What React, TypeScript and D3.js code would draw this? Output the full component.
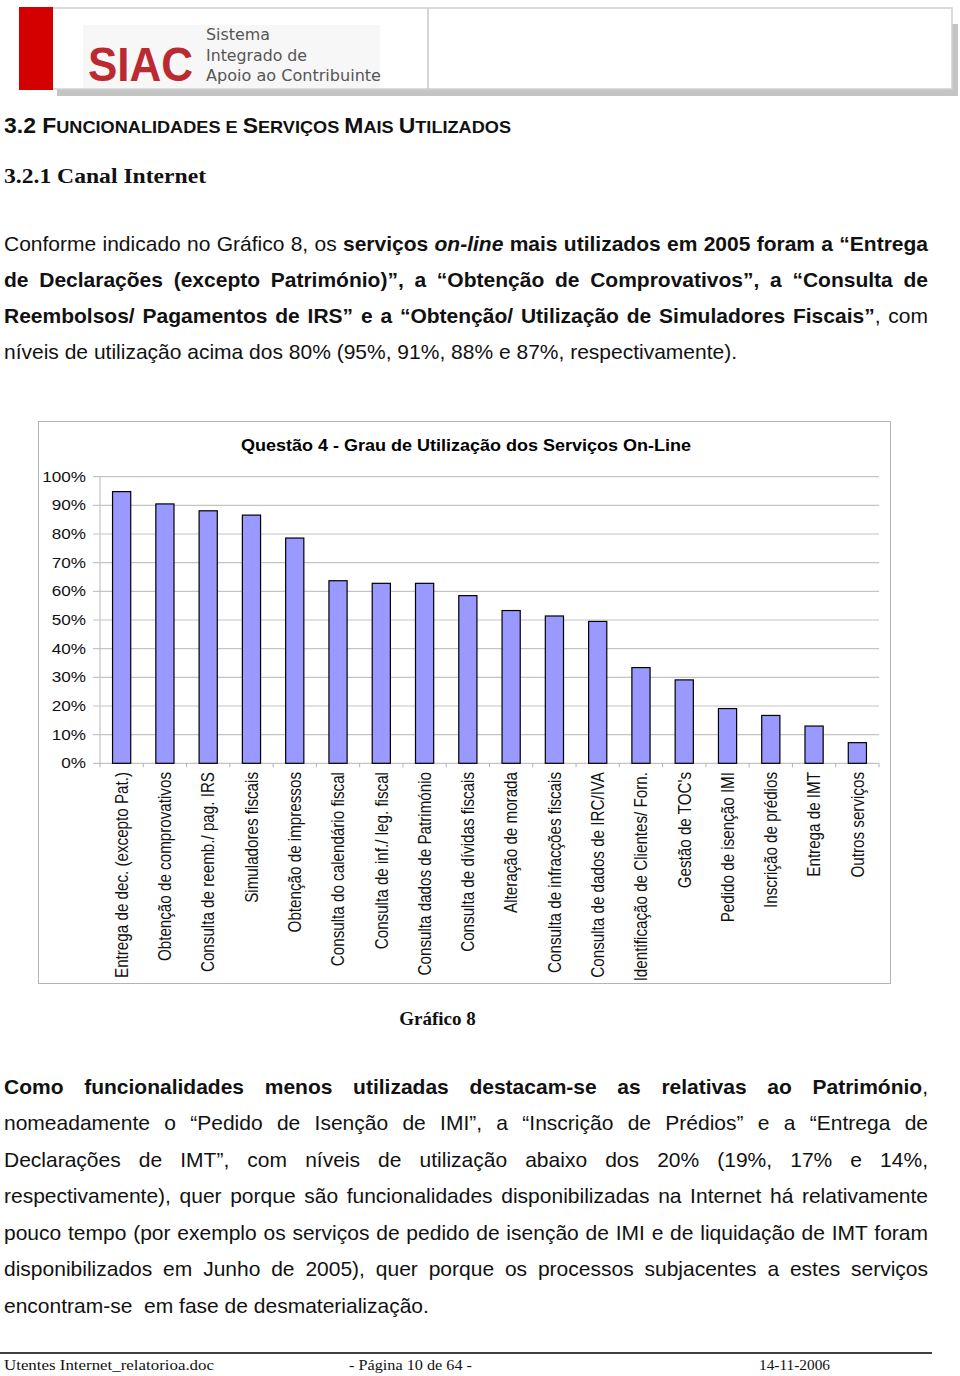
import React, { useLayoutEffect, useRef } from 'react';
import * as d3 from 'd3';

const categories = [
  'Entrega de dec. (excepto Pat.)',
  'Obtenção de comprovativos',
  'Consulta de reemb./ pag. IRS',
  'Simuladores fiscais',
  'Obtenção de impressos',
  'Consulta do calendário fiscal',
  'Consulta de inf./ leg. fiscal',
  'Consulta dados de Património',
  'Consulta de dívidas fiscais',
  'Alteração de morada',
  'Consulta de infracções fiscais',
  'Consulta de dados de IRC/IVA',
  'Identificação de Clientes/ Forn.',
  "Gestão de TOC's",
  'Pedido de isenção IMI',
  'Inscrição de prédios',
  'Entrega de IMT',
  'Outros serviços',
];
const values = [94.8, 90.5, 88.1, 86.6, 78.6, 63.7, 62.8, 62.8, 58.5, 53.3, 51.4, 49.5, 33.4, 29.1, 19.1, 16.7, 13.0, 7.2];
const yTicks = [0, 10, 20, 30, 40, 50, 60, 70, 80, 90, 100];
const chartTitle = 'Questão 4 - Grau de Utilização dos Serviços On-Line';

const SANS = '"Liberation Sans", Arial, Helvetica, sans-serif';
const SERIF = '"Liberation Serif", "Times New Roman", serif';

type Seg = { t: string; b?: boolean; i?: boolean };

function Line({ y, segs, justify, x = 4, width = 924, size = 21 }: { y: number; segs: Seg[]; justify: boolean; x?: number; width?: number; size?: number }) {
  const ref = useRef<SVGTextElement>(null);
  useLayoutEffect(() => {
    const el = ref.current;
    if (!el || !justify) return;
    el.style.wordSpacing = '0px';
    const w = el.getComputedTextLength();
    const txt = el.textContent || '';
    const spaces = (txt.match(/ /g) || []).length;
    if (spaces > 0) el.style.wordSpacing = `${(width - w) / spaces}px`;
  }, [justify, width]);
  return (
    <text ref={ref} x={x} y={y} fontFamily={SANS} fontSize={size} fill="#111" style={{ whiteSpace: 'pre' }}>
      {segs.map((s, k) => (
        <tspan key={k} fontWeight={s.b ? 'bold' : 'normal'} fontStyle={s.i ? 'italic' : 'normal'}>{s.t}</tspan>
      ))}
    </text>
  );
}

const para1: Seg[][] = [
  [{ t: 'Conforme indicado no Gráfico 8, os ' }, { t: 'serviços ', b: true }, { t: 'on-line', b: true, i: true }, { t: ' mais utilizados em 2005 foram a “Entrega', b: true }],
  [{ t: 'de Declarações (excepto Património)”, a “Obtenção de Comprovativos”, a “Consulta de', b: true }],
  [{ t: 'Reembolsos/ Pagamentos de IRS” e a “Obtenção/ Utilização de Simuladores Fiscais”', b: true }, { t: ', com' }],
  [{ t: 'níveis de utilização acima dos 80% (95%, 91%, 88% e 87%, respectivamente).' }],
];
const para2: Seg[][] = [
  [{ t: 'Como funcionalidades menos utilizadas destacam-se as relativas ao Património', b: true }, { t: ',' }],
  [{ t: 'nomeadamente o “Pedido de Isenção de IMI”, a “Inscrição de Prédios” e a “Entrega de' }],
  [{ t: 'Declarações de IMT”, com níveis de utilização abaixo dos 20% (19%, 17% e 14%,' }],
  [{ t: 'respectivamente), quer porque são funcionalidades disponibilizadas na Internet há relativamente' }],
  [{ t: 'pouco tempo (por exemplo os serviços de pedido de isenção de IMI e de liquidação de IMT foram' }],
  [{ t: 'disponibilizados em Junho de 2005), quer porque os processos subjacentes a estes serviços' }],
  [{ t: 'encontram-se  em fase de desmaterialização.' }],
];

function Chart() {
  const plotLeft = 100, plotRight = 879, plotTop = 476.7, plotBottom = 763.3;
  const x = d3.scaleBand<string>().domain(categories).range([plotLeft, plotRight]).padding(0);
  const y = d3.scaleLinear().domain([0, 100]).range([plotBottom, plotTop]);
  const barW = x.bandwidth() * 0.42;
  const sx = 1.18;
  return (
    <g fontFamily={SANS}>
      <rect x={38.5} y={421.5} width={852} height={562} fill="#fff" stroke="#b4b4b4" strokeWidth={1} />
      <text x={466} y={451} textAnchor="middle" fontSize={17} fontWeight="bold" textLength={450} lengthAdjust="spacingAndGlyphs">{chartTitle}</text>
      {yTicks.map((t) => (
        <g key={t}>
          <line x1={plotLeft - 7} x2={plotRight} y1={y(t)} y2={y(t)} stroke="#c4c4c4" strokeWidth={1.2} />
          <text transform={`translate(86,${y(t) + 5}) scale(${sx},1)`} textAnchor="end" fontSize={14.5} fill="#111">{t}%</text>
        </g>
      ))}
      <line x1={plotLeft} x2={plotLeft} y1={plotTop} y2={plotBottom} stroke="#c4c4c4" strokeWidth={1.2} />
      {categories.map((c, k) => (
        <line key={'tk' + k} x1={(x(c) as number)} x2={(x(c) as number)} y1={plotBottom} y2={plotBottom + 4} stroke="#b0b0b0" strokeWidth={1} />
      ))}
      <line x1={plotRight} x2={plotRight} y1={plotBottom} y2={plotBottom + 4} stroke="#b0b0b0" strokeWidth={1} />
      {categories.map((c, k) => {
        const cx = (x(c) as number) + x.bandwidth() / 2;
        return (
          <rect key={'b' + k} x={cx - barW / 2} y={y(values[k])} width={barW} height={plotBottom - y(values[k])} fill="#9999ff" stroke="#000" strokeWidth={1.2} />
        );
      })}
      {categories.map((c, k) => {
        const cx = (x(c) as number) + x.bandwidth() / 2;
        return (
          <text key={'l' + k} transform={`translate(${cx},772) scale(${sx},1) rotate(-90)`} textAnchor="end" dy="0.35em" fontSize={15.2} fill="#111">{c}</text>
        );
      })}
    </g>
  );
}

function Header() {
  return (
    <g>
      <rect x={57} y={24} width={901} height={72} fill="#c4c4c4" />
      <rect x={52} y={8} width={900} height={81} fill="#fff" stroke="#cfcfcf" strokeWidth={1.5} />
      <line x1={428} x2={428} y1={8} y2={89} stroke="#c8c8c8" strokeWidth={1.5} />
      <rect x={19} y={7} width={34} height={83} fill="#d40000" />
      <rect x={83} y={25} width={297} height={63} fill="#f7f7f7" />
      <text x={88} y={81} fontFamily={SANS} fontWeight="bold" fontSize={48} fill="#bb2a30" textLength={105} lengthAdjust="spacingAndGlyphs">SIAC</text>
      <g fontFamily='"DejaVu Sans", sans-serif' fontSize={16} fill="#555">
        <text x={206} y={40} textLength={64} lengthAdjust="spacingAndGlyphs">Sistema</text>
        <text x={206} y={61} textLength={101} lengthAdjust="spacingAndGlyphs">Integrado de</text>
        <text x={206} y={81} textLength={175} lengthAdjust="spacingAndGlyphs">Apoio ao Contribuinte</text>
      </g>
    </g>
  );
}

export default function App() {
  const p1y = [251, 287, 323, 359];
  const p2y = [1093.5, 1130, 1166.5, 1203, 1239.5, 1276, 1312.5];
  return (
    <svg width={960} height={1376} style={{ position: 'absolute', left: 0, top: 0, background: '#fff' }}>
      <rect width={960} height={1376} fill="#fff" />
      <Header />
      <text x={4} y={133} fontFamily={SANS} fontWeight="bold" fill="#111" textLength={507} lengthAdjust="spacingAndGlyphs">
        <tspan fontSize={21.5}>3.2 F</tspan>
        <tspan fontSize={17}>UNCIONALIDADES E </tspan>
        <tspan fontSize={21.5}>S</tspan>
        <tspan fontSize={17}>ERVIÇOS </tspan>
        <tspan fontSize={21.5}>M</tspan>
        <tspan fontSize={17}>AIS </tspan>
        <tspan fontSize={21.5}>U</tspan>
        <tspan fontSize={17}>TILIZADOS</tspan>
      </text>
      <text x={4} y={183} fontFamily={SERIF} fontWeight="bold" fontSize={22} fill="#111" textLength={202} lengthAdjust="spacingAndGlyphs">3.2.1 Canal Internet</text>
      {para1.map((segs, k) => (
        <Line key={'p1' + k} y={p1y[k]} segs={segs} justify={k < para1.length - 1} />
      ))}
      <Chart />
      <text x={437.5} y={1025} textAnchor="middle" fontFamily={SERIF} fontWeight="bold" fontSize={19} fill="#111">Gráfico 8</text>
      {para2.map((segs, k) => (
        <Line key={'p2' + k} y={p2y[k]} segs={segs} justify={k < para2.length - 1} />
      ))}
      <line x1={0} x2={932} y1={1353} y2={1353} stroke="#000" strokeWidth={1.5} />
      <g fontFamily={SERIF} fontSize={15.5} fill="#111">
        <text x={4} y={1370} textLength={210} lengthAdjust="spacingAndGlyphs">Utentes Internet_relatorioa.doc</text>
        <text x={349} y={1370} textLength={123} lengthAdjust="spacingAndGlyphs">- Página 10 de 64 -</text>
        <text x={759} y={1370} textLength={71} lengthAdjust="spacingAndGlyphs">14-11-2006</text>
      </g>
    </svg>
  );
}
